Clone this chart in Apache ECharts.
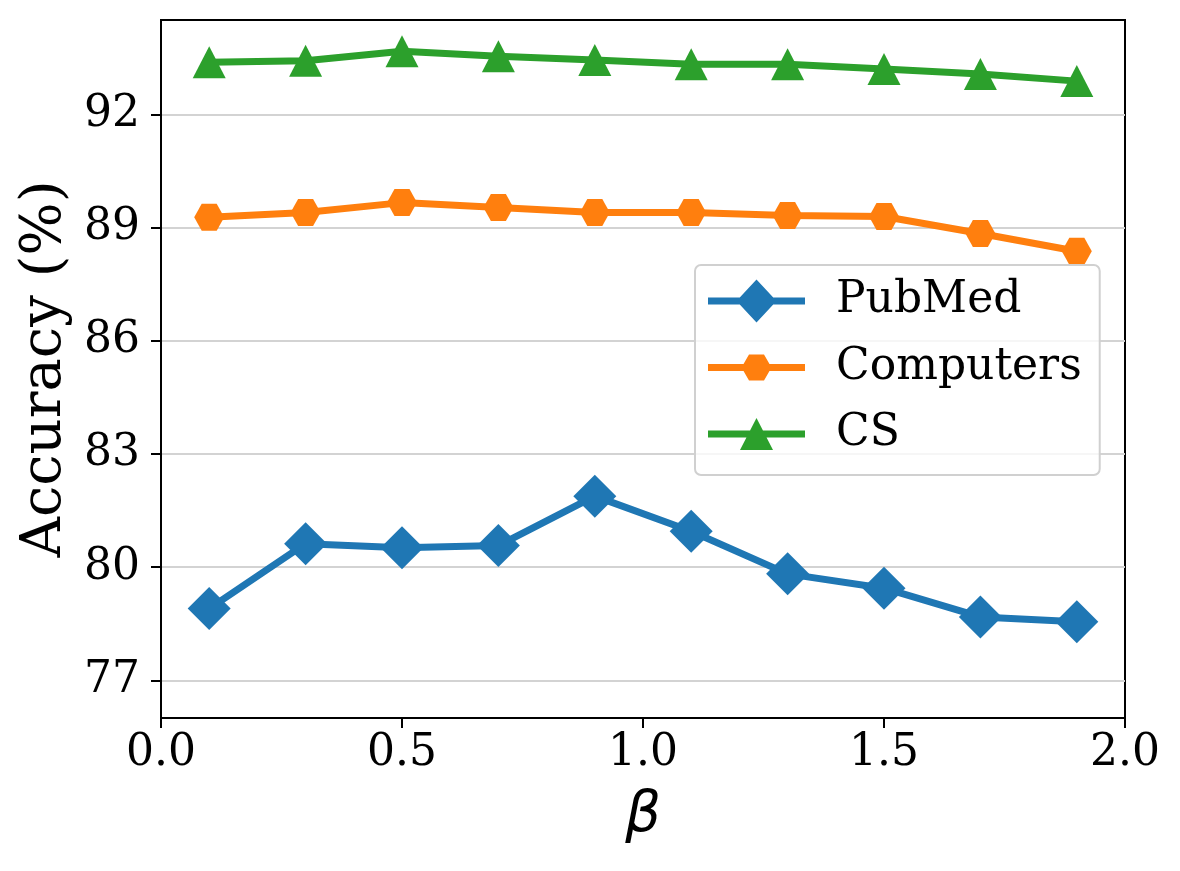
<!DOCTYPE html>
<html>
<head>
<meta charset="utf-8">
<script src="https://cdn.jsdelivr.net/npm/echarts@6/dist/echarts.min.js"></script>
<style>
  html, body { margin: 0; padding: 0; background: #fff; }
  #chart { width: 1180px; height: 871px; }
</style>
</head>
<body>
<div id="chart"></div>
<script>
// beta values on the x axis
const betaValues = [0.1, 0.3, 0.5, 0.7, 0.9, 1.1, 1.3, 1.5, 1.7, 1.9];
// accuracy (%) per dataset
const pubmed = [78.90, 80.62, 80.51, 80.57, 81.88, 80.95, 79.82, 79.44, 78.68, 78.55];
const computers = [89.27, 89.40, 89.66, 89.53, 89.40, 89.40, 89.32, 89.29, 88.84, 88.37];
const cs = [93.38, 93.42, 93.67, 93.54, 93.44, 93.33, 93.33, 93.20, 93.07, 92.88];
const yTicks = [77, 80, 83, 86, 89, 92];

const seriesNames = ['PubMed', 'Computers', 'CS'];
const colors = ['#1f77b4', '#ff7f0e', '#2ca02c'];

const hexagon = 'path://M7.5,0 L22.5,0 L30,13 L22.5,26 L7.5,26 L0,13 Z';
// legend icons: line + marker
const legendIcons = [
  'path://M0,18 L97,18 L97,25 L0,25 Z M48.5,0 L68.5,21.5 L48.5,43 L28.5,21.5 Z',
  'path://M0,9.5 L97,9.5 L97,16.5 L0,16.5 Z M33.5,13 L41,0 L56,0 L63.5,13 L56,26 L41,26 Z',
  'path://M0,12.5 L97,12.5 L97,19.5 L0,19.5 Z M48.5,0 L65,32 L32,32 Z'
];

const pairs = vals => betaValues.map((b, i) => [b, vals[i]]);
const font = 'DejaVu Serif';

const chart = echarts.init(document.getElementById('chart'));

function lineSeries(idx, data, symbol, size) {
  return {
    name: seriesNames[idx],
    type: 'line',
    data: pairs(data),
    symbol: symbol,
    symbolSize: size,
    showAllSymbol: true,
    lineStyle: { width: 7, color: colors[idx] },
    itemStyle: { color: colors[idx], borderWidth: 0 },
    emphasis: { disabled: true }
  };
}

let option = {
  animation: false,
  backgroundColor: '#fff',
  grid: { left: 161, right: 55, top: 20, bottom: 153, outerBoundsMode: 'none',
          show: true, borderColor: '#000', borderWidth: 2 },
  xAxis: {
    type: 'value',
    min: 0, max: 2, interval: 0.5,
    name: 'β',
    nameLocation: 'middle',
    nameGap: 70,
    nameTextStyle: { fontFamily: 'DejaVu Sans', fontStyle: 'italic', fontSize: 56, color: '#000' },
    axisLine: { show: true, lineStyle: { color: '#000', width: 2 } },
    axisTick: { show: true, length: 10, lineStyle: { color: '#000', width: 2 } },
    axisLabel: { fontFamily: font, fontSize: 44, color: '#000', margin: 14,
                 formatter: v => v.toFixed(1) },
    splitLine: { show: false }
  },
  yAxis: {
    type: 'value',
    min: 76, max: 94.5,
    name: 'Accuracy (%)',
    nameLocation: 'middle',
    nameGap: 84,
    nameTextStyle: { fontFamily: font, fontSize: 56, color: '#000' },
    axisLine: { show: true, lineStyle: { color: '#000', width: 2 } },
    axisTick: { show: true, length: 10, customValues: yTicks, lineStyle: { color: '#000', width: 2 } },
    axisLabel: { fontFamily: font, fontSize: 44, color: '#000', margin: 21, customValues: yTicks },
    splitLine: { show: true, lineStyle: { color: '#d3d3d3', width: 2 } }
  },
  legend: {
    orient: 'vertical',
    left: 695, top: 265,
    padding: [14, 18, 19, 13],
    itemWidth: 97, itemHeight: 43, itemGap: 22.5,
    backgroundColor: 'rgba(255,255,255,0.8)',
    borderColor: '#d0d0d0', borderWidth: 2, borderRadius: 6,
    textStyle: { fontFamily: font, fontSize: 44, color: '#000', lineHeight: 43, padding: [0, 0, 0, 26] },
    itemStyle: { borderWidth: 0 },
    selectedMode: false,
    data: seriesNames.map((n, i) => ({ name: n, icon: legendIcons[i], itemStyle: { color: colors[i] } }))
  },
  series: [
    lineSeries(0, pubmed, 'diamond', [43, 43]),
    lineSeries(1, computers, hexagon, [30, 27]),
    lineSeries(2, cs, 'triangle', [33, 32])
  ]
};

chart.setOption(option);
</script>
</body>
</html>
